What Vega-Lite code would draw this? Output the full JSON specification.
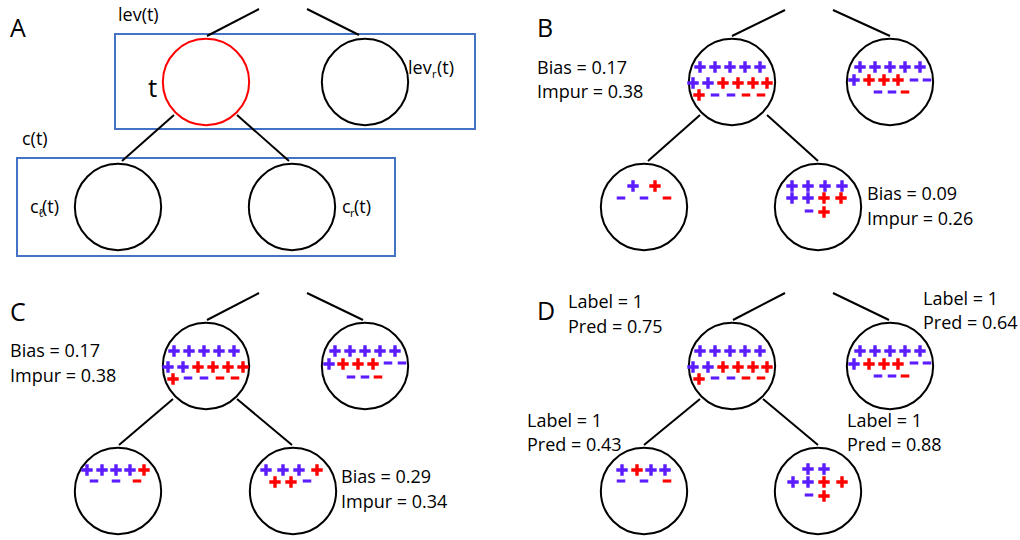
{
  "$schema": "https://vega.github.io/schema/vega-lite/v6.json",
  "width": 1020,
  "height": 540,
  "autosize": {"type": "fit", "contains": "padding"},
  "padding": 0,
  "background": "white",
  "config": {"view": {"stroke": null}},
  "datasets": {
    "boxes": [
      {"x": 115, "y": 34, "x2": 475, "y2": 129},
      {"x": 17, "y": 158, "x2": 395, "y2": 256}
    ],
    "edges": [
      {"x": 207, "y": 36, "x2": 259, "y2": 9},
      {"x": 307, "y": 9, "x2": 359, "y2": 35},
      {"x": 174, "y": 115, "x2": 122, "y2": 161},
      {"x": 237, "y": 115, "x2": 289, "y2": 161},
      {"x": 732, "y": 36, "x2": 785, "y2": 10},
      {"x": 833, "y": 10, "x2": 890, "y2": 36},
      {"x": 700, "y": 115, "x2": 648, "y2": 161},
      {"x": 767, "y": 115, "x2": 818, "y2": 161},
      {"x": 207, "y": 320, "x2": 259, "y2": 293},
      {"x": 307, "y": 293, "x2": 363, "y2": 320},
      {"x": 173, "y": 399, "x2": 119, "y2": 445},
      {"x": 237, "y": 399, "x2": 292, "y2": 445},
      {"x": 733, "y": 320, "x2": 785, "y2": 293},
      {"x": 833, "y": 293, "x2": 889, "y2": 320},
      {"x": 700, "y": 399, "x2": 644, "y2": 445},
      {"x": 763, "y": 399, "x2": 818, "y2": 445}
    ],
    "nodes": [
      {"x": 206, "y": 82, "role": "t"},
      {"x": 365, "y": 82, "role": "other"},
      {"x": 118, "y": 207, "role": "other"},
      {"x": 292, "y": 207, "role": "other"},
      {"x": 732, "y": 82, "role": "other"},
      {"x": 890, "y": 82, "role": "other"},
      {"x": 644, "y": 207, "role": "other"},
      {"x": 818, "y": 207, "role": "other"},
      {"x": 206, "y": 366, "role": "other"},
      {"x": 365, "y": 366, "role": "other"},
      {"x": 118, "y": 491, "role": "other"},
      {"x": 293, "y": 491, "role": "other"},
      {"x": 732, "y": 366, "role": "other"},
      {"x": 890, "y": 366, "role": "other"},
      {"x": 644, "y": 491, "role": "other"},
      {"x": 818, "y": 491, "role": "other"}
    ],
    "signs": [
      {"x": 700, "y": 67, "s": "+", "g": "p"},
      {"x": 715, "y": 67, "s": "+", "g": "p"},
      {"x": 730, "y": 67, "s": "+", "g": "p"},
      {"x": 745, "y": 67, "s": "+", "g": "p"},
      {"x": 760, "y": 67, "s": "+", "g": "p"},
      {"x": 693, "y": 83, "s": "+", "g": "p"},
      {"x": 708, "y": 83, "s": "+", "g": "p"},
      {"x": 723, "y": 83, "s": "+", "g": "r"},
      {"x": 738, "y": 83, "s": "+", "g": "r"},
      {"x": 753, "y": 83, "s": "+", "g": "r"},
      {"x": 767, "y": 83, "s": "+", "g": "r"},
      {"x": 699, "y": 95, "s": "+", "g": "r"},
      {"x": 715, "y": 95, "s": "-", "g": "p"},
      {"x": 731, "y": 95, "s": "-", "g": "p"},
      {"x": 746, "y": 95, "s": "-", "g": "r"},
      {"x": 761, "y": 95, "s": "-", "g": "r"},

      {"x": 860, "y": 67, "s": "+", "g": "p"},
      {"x": 875, "y": 67, "s": "+", "g": "p"},
      {"x": 890, "y": 67, "s": "+", "g": "p"},
      {"x": 905, "y": 67, "s": "+", "g": "p"},
      {"x": 920, "y": 67, "s": "+", "g": "p"},
      {"x": 854, "y": 80, "s": "+", "g": "p"},
      {"x": 869, "y": 80, "s": "+", "g": "r"},
      {"x": 884, "y": 80, "s": "+", "g": "r"},
      {"x": 898, "y": 80, "s": "+", "g": "r"},
      {"x": 914, "y": 80, "s": "-", "g": "p"},
      {"x": 927, "y": 80, "s": "-", "g": "p"},
      {"x": 878, "y": 92, "s": "-", "g": "p"},
      {"x": 892, "y": 92, "s": "-", "g": "p"},
      {"x": 905, "y": 92, "s": "-", "g": "r"},

      {"x": 633, "y": 186, "s": "+", "g": "p"},
      {"x": 655, "y": 186, "s": "+", "g": "r"},
      {"x": 621, "y": 198, "s": "-", "g": "p"},
      {"x": 644, "y": 198, "s": "-", "g": "p"},
      {"x": 667, "y": 198, "s": "-", "g": "r"},

      {"x": 792, "y": 186, "s": "+", "g": "p"},
      {"x": 808, "y": 186, "s": "+", "g": "p"},
      {"x": 825, "y": 186, "s": "+", "g": "p"},
      {"x": 842, "y": 186, "s": "+", "g": "p"},
      {"x": 792, "y": 198, "s": "+", "g": "p"},
      {"x": 808, "y": 198, "s": "+", "g": "p"},
      {"x": 824, "y": 198, "s": "+", "g": "r"},
      {"x": 841, "y": 198, "s": "+", "g": "r"},
      {"x": 809, "y": 211, "s": "-", "g": "p"},
      {"x": 824, "y": 212, "s": "+", "g": "r"},

      {"x": 174, "y": 351, "s": "+", "g": "p"},
      {"x": 189, "y": 351, "s": "+", "g": "p"},
      {"x": 204, "y": 351, "s": "+", "g": "p"},
      {"x": 219, "y": 351, "s": "+", "g": "p"},
      {"x": 234, "y": 351, "s": "+", "g": "p"},
      {"x": 168, "y": 367, "s": "+", "g": "p"},
      {"x": 183, "y": 367, "s": "+", "g": "p"},
      {"x": 198, "y": 367, "s": "+", "g": "r"},
      {"x": 213, "y": 367, "s": "+", "g": "r"},
      {"x": 228, "y": 367, "s": "+", "g": "r"},
      {"x": 243, "y": 367, "s": "+", "g": "r"},
      {"x": 173, "y": 379, "s": "+", "g": "r"},
      {"x": 188, "y": 378, "s": "-", "g": "p"},
      {"x": 204, "y": 378, "s": "-", "g": "p"},
      {"x": 220, "y": 378, "s": "-", "g": "r"},
      {"x": 235, "y": 378, "s": "-", "g": "r"},

      {"x": 335, "y": 351, "s": "+", "g": "p"},
      {"x": 350, "y": 351, "s": "+", "g": "p"},
      {"x": 365, "y": 351, "s": "+", "g": "p"},
      {"x": 380, "y": 351, "s": "+", "g": "p"},
      {"x": 395, "y": 351, "s": "+", "g": "p"},
      {"x": 329, "y": 364, "s": "+", "g": "p"},
      {"x": 343, "y": 364, "s": "+", "g": "r"},
      {"x": 358, "y": 364, "s": "+", "g": "r"},
      {"x": 373, "y": 364, "s": "+", "g": "r"},
      {"x": 388, "y": 363, "s": "-", "g": "p"},
      {"x": 402, "y": 363, "s": "-", "g": "p"},
      {"x": 351, "y": 377, "s": "-", "g": "p"},
      {"x": 365, "y": 377, "s": "-", "g": "p"},
      {"x": 378, "y": 377, "s": "-", "g": "r"},

      {"x": 87, "y": 470, "s": "+", "g": "p"},
      {"x": 102, "y": 470, "s": "+", "g": "p"},
      {"x": 116, "y": 470, "s": "+", "g": "p"},
      {"x": 130, "y": 470, "s": "+", "g": "p"},
      {"x": 144, "y": 470, "s": "+", "g": "r"},
      {"x": 94, "y": 481, "s": "-", "g": "p"},
      {"x": 116, "y": 481, "s": "-", "g": "p"},
      {"x": 137, "y": 481, "s": "-", "g": "r"},

      {"x": 266, "y": 470, "s": "+", "g": "p"},
      {"x": 283, "y": 470, "s": "+", "g": "p"},
      {"x": 299, "y": 470, "s": "+", "g": "p"},
      {"x": 317, "y": 470, "s": "+", "g": "r"},
      {"x": 275, "y": 482, "s": "+", "g": "r"},
      {"x": 291, "y": 482, "s": "+", "g": "r"},
      {"x": 307, "y": 481, "s": "-", "g": "p"},

      {"x": 700, "y": 351, "s": "+", "g": "p"},
      {"x": 715, "y": 351, "s": "+", "g": "p"},
      {"x": 730, "y": 351, "s": "+", "g": "p"},
      {"x": 745, "y": 351, "s": "+", "g": "p"},
      {"x": 760, "y": 351, "s": "+", "g": "p"},
      {"x": 693, "y": 367, "s": "+", "g": "p"},
      {"x": 708, "y": 367, "s": "+", "g": "p"},
      {"x": 723, "y": 367, "s": "+", "g": "r"},
      {"x": 738, "y": 367, "s": "+", "g": "r"},
      {"x": 753, "y": 367, "s": "+", "g": "r"},
      {"x": 767, "y": 367, "s": "+", "g": "r"},
      {"x": 699, "y": 379, "s": "+", "g": "r"},
      {"x": 715, "y": 378, "s": "-", "g": "p"},
      {"x": 731, "y": 378, "s": "-", "g": "p"},
      {"x": 746, "y": 378, "s": "-", "g": "r"},
      {"x": 761, "y": 378, "s": "-", "g": "r"},

      {"x": 860, "y": 351, "s": "+", "g": "p"},
      {"x": 875, "y": 351, "s": "+", "g": "p"},
      {"x": 890, "y": 351, "s": "+", "g": "p"},
      {"x": 905, "y": 351, "s": "+", "g": "p"},
      {"x": 920, "y": 351, "s": "+", "g": "p"},
      {"x": 854, "y": 364, "s": "+", "g": "p"},
      {"x": 869, "y": 364, "s": "+", "g": "r"},
      {"x": 884, "y": 364, "s": "+", "g": "r"},
      {"x": 898, "y": 364, "s": "+", "g": "r"},
      {"x": 914, "y": 363, "s": "-", "g": "p"},
      {"x": 927, "y": 363, "s": "-", "g": "p"},
      {"x": 878, "y": 376, "s": "-", "g": "p"},
      {"x": 892, "y": 376, "s": "-", "g": "p"},
      {"x": 905, "y": 376, "s": "-", "g": "r"},

      {"x": 622, "y": 470, "s": "+", "g": "p"},
      {"x": 637, "y": 470, "s": "+", "g": "r"},
      {"x": 651, "y": 470, "s": "+", "g": "p"},
      {"x": 665, "y": 470, "s": "+", "g": "p"},
      {"x": 621, "y": 481, "s": "-", "g": "p"},
      {"x": 644, "y": 481, "s": "-", "g": "p"},
      {"x": 667, "y": 481, "s": "-", "g": "r"},

      {"x": 808, "y": 469, "s": "+", "g": "p"},
      {"x": 824, "y": 469, "s": "+", "g": "p"},
      {"x": 793, "y": 482, "s": "+", "g": "p"},
      {"x": 808, "y": 482, "s": "+", "g": "p"},
      {"x": 824, "y": 482, "s": "+", "g": "r"},
      {"x": 842, "y": 482, "s": "+", "g": "r"},
      {"x": 809, "y": 495, "s": "-", "g": "p"},
      {"x": 824, "y": 496, "s": "+", "g": "r"}
    ],
    "texts": [
      {"x": 10, "y": 37, "text": "A", "kind": "panel"},
      {"x": 537, "y": 37, "text": "B", "kind": "panel"},
      {"x": 10, "y": 321, "text": "C", "kind": "panel"},
      {"x": 537, "y": 320, "text": "D", "kind": "panel"},
      {"x": 118, "y": 21, "text": "lev(t)", "kind": "lab"},
      {"x": 22, "y": 145, "text": "c(t)", "kind": "lab"},
      {"x": 408, "y": 74, "text": "lev", "kind": "lab"},
      {"x": 437, "y": 74, "text": "(t)", "kind": "lab"},
      {"x": 30, "y": 213, "text": "c", "kind": "lab"},
      {"x": 42, "y": 213, "text": "(t)", "kind": "lab"},
      {"x": 342, "y": 213, "text": "c", "kind": "lab"},
      {"x": 354, "y": 213, "text": "(t)", "kind": "lab"},
      {"x": 432, "y": 78, "text": "r", "kind": "sub"},
      {"x": 38, "y": 217, "text": "ℓ", "kind": "sub"},
      {"x": 350, "y": 217, "text": "r", "kind": "sub"},
      {"x": 148, "y": 97, "text": "t", "kind": "big"},
      {"x": 537, "y": 74, "text": "Bias = 0.17", "kind": "stat"},
      {"x": 537, "y": 98, "text": "Impur = 0.38", "kind": "stat"},
      {"x": 867, "y": 200, "text": "Bias = 0.09", "kind": "stat"},
      {"x": 867, "y": 225, "text": "Impur = 0.26", "kind": "stat"},
      {"x": 10, "y": 357, "text": "Bias = 0.17", "kind": "stat"},
      {"x": 10, "y": 382, "text": "Impur = 0.38", "kind": "stat"},
      {"x": 341, "y": 483, "text": "Bias = 0.29", "kind": "stat"},
      {"x": 341, "y": 508, "text": "Impur = 0.34", "kind": "stat"},
      {"x": 568, "y": 308, "text": "Label = 1", "kind": "stat"},
      {"x": 568, "y": 333, "text": "Pred = 0.75", "kind": "stat"},
      {"x": 923, "y": 305, "text": "Label = 1", "kind": "stat"},
      {"x": 923, "y": 329, "text": "Pred = 0.64", "kind": "stat"},
      {"x": 527, "y": 427, "text": "Label = 1", "kind": "stat"},
      {"x": 527, "y": 451, "text": "Pred = 0.43", "kind": "stat"},
      {"x": 847, "y": 427, "text": "Label = 1", "kind": "stat"},
      {"x": 847, "y": 451, "text": "Pred = 0.88", "kind": "stat"}
    ]
  },
  "encoding": {
    "x": {"field": "x", "type": "quantitative", "scale": {"domain": [0, 1020], "nice": false, "zero": false}, "axis": null},
    "y": {"field": "y", "type": "quantitative", "scale": {"domain": [0, 540], "reverse": true, "nice": false, "zero": false}, "axis": null}
  },
  "layer": [
    {
      "data": {"name": "boxes"},
      "mark": {"type": "rect", "fill": null, "fillOpacity": 0, "stroke": "#4472C4", "strokeWidth": 2},
      "encoding": {"x2": {"field": "x2"}, "y2": {"field": "y2"}}
    },
    {
      "data": {"name": "edges"},
      "mark": {"type": "rule", "color": "black", "strokeWidth": 2},
      "encoding": {"x2": {"field": "x2"}, "y2": {"field": "y2"}}
    },
    {
      "data": {"name": "nodes"},
      "mark": {"type": "point", "shape": "circle", "filled": false, "size": 7450, "strokeWidth": 2, "opacity": 1},
      "encoding": {
        "stroke": {"field": "role", "type": "nominal", "scale": {"domain": ["t", "other"], "range": ["#FF0000", "#000000"]}, "legend": null}
      }
    },
    {
      "data": {"name": "signs"},
      "mark": {"type": "point", "filled": true, "size": 130, "strokeWidth": 0, "opacity": 1},
      "encoding": {
        "shape": {"field": "s", "type": "nominal", "scale": {"domain": ["+", "-"], "range": ["M-1,-0.3H-0.3V-1H0.3V-0.3H1V0.3H0.3V1H-0.3V0.3H-1Z", "M-0.75,-0.27H0.75V0.27H-0.75Z"]}, "legend": null},
        "color": {"field": "g", "type": "nominal", "scale": {"domain": ["p", "r"], "range": ["#5B1CFF", "#FF0000"]}, "legend": null}
      }
    },
    {
      "data": {"name": "texts"},
      "transform": [{"filter": "datum.kind === 'panel'"}],
      "mark": {"type": "text", "align": "left", "baseline": "alphabetic", "font": "Open Sans", "fontSize": 25, "color": "black"},
      "encoding": {"text": {"field": "text"}}
    },
    {
      "data": {"name": "texts"},
      "transform": [{"filter": "datum.kind === 'lab'"}],
      "mark": {"type": "text", "align": "left", "baseline": "alphabetic", "font": "Open Sans", "fontSize": 18, "color": "black"},
      "encoding": {"text": {"field": "text"}}
    },
    {
      "data": {"name": "texts"},
      "transform": [{"filter": "datum.kind === 'sub'"}],
      "mark": {"type": "text", "align": "left", "baseline": "alphabetic", "font": "Open Sans", "fontSize": 11, "color": "black"},
      "encoding": {"text": {"field": "text"}}
    },
    {
      "data": {"name": "texts"},
      "transform": [{"filter": "datum.kind === 'big'"}],
      "mark": {"type": "text", "align": "left", "baseline": "alphabetic", "font": "Open Sans", "fontSize": 26, "color": "black"},
      "encoding": {"text": {"field": "text"}}
    },
    {
      "data": {"name": "texts"},
      "transform": [{"filter": "datum.kind === 'stat'"}],
      "mark": {"type": "text", "align": "left", "baseline": "alphabetic", "font": "Open Sans", "fontSize": 18, "color": "black"},
      "encoding": {"text": {"field": "text"}}
    }
  ]
}
